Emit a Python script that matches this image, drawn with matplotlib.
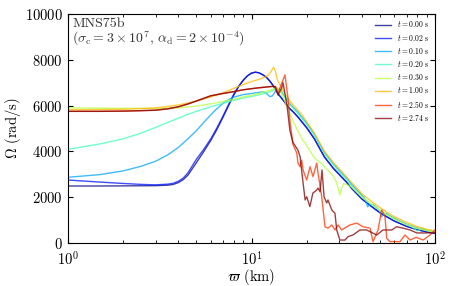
import numpy as np
import matplotlib
matplotlib.use("Agg")
import matplotlib.pyplot as plt

plt.rcParams['font.family'] = 'serif'
plt.rcParams['font.serif'] = ['cmr10']
plt.rcParams['mathtext.fontset'] = 'cm'
plt.rcParams['axes.formatter.use_mathtext'] = True
plt.rcParams['axes.unicode_minus'] = False

# t = 0.00 s and t = 0.02 s
w_02 = [1, 1.5, 2, 2.5, 3, 3.5, 3.75, 4, 4.25, 4.5, 5, 5.5, 6, 6.5, 7, 7.5, 8, 8.5, 9, 9.5, 10, 10.5, 11, 11.5, 12, 12.5,
        13, 13.5, 14, 15, 16, 17, 18, 19, 20, 22, 25, 28, 30, 33, 35, 40, 45, 50, 55, 60, 70, 80, 90, 100]
om_02 = [2750, 2660, 2600, 2560, 2540, 2570, 2610, 2700, 2840, 3060, 3650, 4100, 4550, 5050, 5550, 6050, 6500, 6850, 7100, 7300, 7420, 7460, 7430, 7350, 7250, 7100,
         6920, 6720, 6500, 6200, 5900, 5700, 5480, 5250, 5030, 4550, 3750, 3250, 3000, 2650, 2400, 1920, 1600, 1330, 1130, 960, 730, 580, 490, 420]
w_00 = w_02
om_00 = [2490, 2490, 2495, 2500, 2505, 2525, 2560, 2640, 2770, 2960, 3500, 4000, 4480, 4980, 5500, 6000, 6450, 6820, 7100, 7300, 7420, 7460, 7430, 7350, 7250, 7100,
         6920, 6720, 6500, 6200, 5900, 5700, 5480, 5250, 5030, 4550, 3750, 3250, 3000, 2650, 2400, 1920, 1600, 1330, 1130, 960, 730, 580, 490, 420]

# t = 0.10 s
w_10 = [1, 1.5, 2, 2.5, 3, 3.5, 4, 4.5, 5, 5.5, 6, 6.5, 7, 7.5, 8, 9, 10, 11, 11.7, 12.2, 12.6, 13, 13.5, 14, 14.5, 15, 16, 17, 18, 19, 20,
        22, 25, 28, 30, 33, 35, 40, 41, 42, 43, 44, 46, 48, 50, 51, 52, 54, 57, 60, 70, 80, 90, 100]
om_10 = [2870, 2990, 3150, 3350, 3570, 3850, 4180, 4550, 4900, 5270, 5600, 5880, 6100, 6260, 6370, 6480, 6530, 6580, 6600, 6500, 6390, 6430, 6620, 6750, 6650, 6450, 6120, 5900, 5680, 5450, 5230,
         4750, 3950, 3450, 3180, 2830, 2580, 2080, 2000, 1800, 1580, 1680, 1680, 1550, 1380, 1150, 1200, 1300, 1180, 1080, 820, 660, 560, 470]

# t = 0.20 s
w_20 = [1, 1.5, 2, 2.5, 3, 3.5, 4, 4.5, 5, 6, 7, 8, 9, 10, 11, 12, 13, 14, 14.5, 15, 16, 17, 18, 19, 20,
        22, 25, 28, 30, 33, 35, 40, 45, 50, 55, 60, 70, 75, 78, 80, 82, 85, 90, 100]
om_20 = [4090, 4330, 4550, 4800, 5050, 5270, 5450, 5620, 5750, 5950, 6100, 6230, 6330, 6400, 6470, 6550, 6650, 6750, 6650, 6450, 6080, 5850, 5630, 5400, 5180,
         4700, 3900, 3400, 3120, 2760, 2500, 2020, 1680, 1420, 1220, 1050, 800, 700, 600, 520, 560, 650, 560, 460]

# t = 0.30 s
w_30 = [1, 2, 3, 4, 5, 6, 7, 8, 9, 10, 11, 12, 13, 13.7, 14.3, 15, 16, 17, 18, 19, 20, 21, 22, 23, 24, 25, 26, 27, 28, 29,
        29.5, 30.3, 31, 31.8, 33, 35, 40, 45, 50, 55, 60, 70, 80, 90, 100]
om_30 = [5900, 5880, 5880, 5900, 5980, 6080, 6180, 6280, 6380, 6450, 6530, 6620, 6700, 6800, 6650, 6300, 5750, 5250, 4850, 4500, 4250, 3980, 3720, 3580, 3480, 3330, 3190, 3050, 2900, 2650,
         2460, 2100, 2400, 2600, 2550, 2450, 2000, 1700, 1420, 1220, 1040, 800, 640, 540, 460]

# t = 1.00 s
w_100 = [1, 2, 3, 3.5, 4, 4.5, 5, 6, 7, 8, 9, 10, 11, 12, 12.4, 12.8, 13.2, 13.5, 13.8, 14.3, 15, 16, 17, 18, 19, 20,
         22, 25, 28, 30, 33, 35, 40, 45, 50, 55, 60, 70, 80, 90, 100]
om_100 = [5820, 5840, 5900, 5960, 6030, 6110, 6200, 6380, 6560, 6750, 6920, 7050, 7150, 7260, 7350, 7500, 7680, 7500, 7150, 6900, 6600, 6250, 6000, 5780, 5550, 5300,
          4800, 4000, 3500, 3250, 2880, 2650, 2150, 1820, 1550, 1330, 1150, 900, 720, 600, 520]

# t = 2.50 s
w_250 = [1, 1.5, 2, 2.5, 3, 3.5, 4, 4.5, 5, 5.5, 6, 7, 8, 9, 10, 11, 12, 13, 13.55, 13.95, 14.48, 15.22, 15.81, 16.21, 16.83, 17.64, 17.92, 18.38, 18.77,
         19.09, 19.99, 20.84, 21.64, 22.66, 23.04, 24.13, 25.15, 26.12, 27.36, 28.51, 29.61, 31.01, 33.03, 34.43, 37.44,
         40.52, 44.23, 45.93, 48.92, 51.23, 53.4, 54.56, 56.86, 64.46, 68.62, 73.08, 78.8, 86.0, 93.9, 100]
om_250 = [5750, 5750, 5760, 5780, 5800, 5860, 5950, 6070, 6200, 6320, 6430, 6530, 6610, 6690, 6740, 6780, 6810, 6840, 6830, 6550, 6900, 7340, 6330, 5300, 4300, 3930, 3490, 3330, 3620,
          3190, 2750, 3330, 2900, 3490, 3060, 2020, 710, 650, 790, 570, 790, 570, 710, 790, 870,
          710, 650, 60, 570, 1450, 1150, 200, 60, 60, 350, 130, 250, 130, 350, 570]

# t = 2.74 s
w_274 = [1, 1.5, 2, 2.5, 3, 3.5, 4, 4.5, 5, 5.5, 6, 7, 8, 9, 10, 11, 12, 13, 13.43, 13.95, 14.6, 14.85, 15.6, 16.2, 16.8, 17.9, 18.4, 19.1, 19.6,
         20.0, 20.8, 21.6, 22.66, 23.04, 23.62, 24.23, 24.85, 25.7, 26.1, 27.4, 28.5, 29.13, 30.3, 32.3, 33.6, 35.7,
         39.0, 42.4, 48.1, 52.1, 58.1, 61.8, 66.9, 73.1, 79.5, 90.1, 100]
om_274 = [5750, 5750, 5760, 5780, 5800, 5860, 5950, 6070, 6200, 6320, 6430, 6530, 6610, 6690, 6740, 6780, 6810, 6840, 6830, 6460, 6770, 7000, 6030, 4900, 4400, 4060, 3770, 2620, 1880,
          2020, 1590, 2180, 2310, 2400, 2240, 3190, 2020, 1750, 1880, 1440, 1300, 570, 130, 130, 280, 350,
          570, 570, 350, 570, 570, 710, 650, 570, 440, 440, 450]

times = ['0.00', '0.02', '0.10', '0.20', '0.30', '1.00', '2.50', '2.74']
series = [(w_00, om_00), (w_02, om_02), (w_10, om_10), (w_20, om_20),
          (w_30, om_30), (w_100, om_100), (w_250, om_250), (w_274, om_274)]

colors = plt.cm.jet(np.linspace(0, 1, len(times)))

fig = plt.figure(figsize=(4.58, 2.86), dpi=100)
ax = fig.add_axes([0.1485, 0.1503, 0.8013, 0.8007])

for (w, om), t, c in zip(series, times, colors):
    ax.plot(w, om, color=c, alpha=0.75, linewidth=1.0, label=f'$t = {t}$ s')

ax.set_xscale('log')
ax.set_xlim(1, 100)
ax.set_ylim(0, 10000)
ax.set_yticks([0, 2000, 4000, 6000, 8000, 10000])
ax.tick_params(which='both', direction='in', top=True, right=True, labelsize=10.5)
ax.tick_params(which='major', length=3.5)
ax.tick_params(which='minor', length=2)
ax.tick_params(axis='x', pad=5.5)
ax.tick_params(axis='y', pad=4)
ax.set_xlabel(r'$\varpi$ (km)', fontsize=10.5, labelpad=-1)
ax.set_ylabel(r'$\Omega$ (rad/s)', fontsize=10.5, labelpad=1)

ax.text(0.012, 0.985, 'MNS75b\n' + r'($\sigma_{\rm c} = 3\times10^7$, $\alpha_{\rm d} = 2\times10^{-4}$)',
        transform=ax.transAxes, ha='left', va='top', fontsize=10, color='#333333', linespacing=1.0)

ax.legend(loc='upper right', frameon=False, fontsize=5.5, handlelength=2.1,
          labelspacing=0.42, borderaxespad=0.3, handletextpad=0.8)

fig.savefig('out.png', dpi=100)
